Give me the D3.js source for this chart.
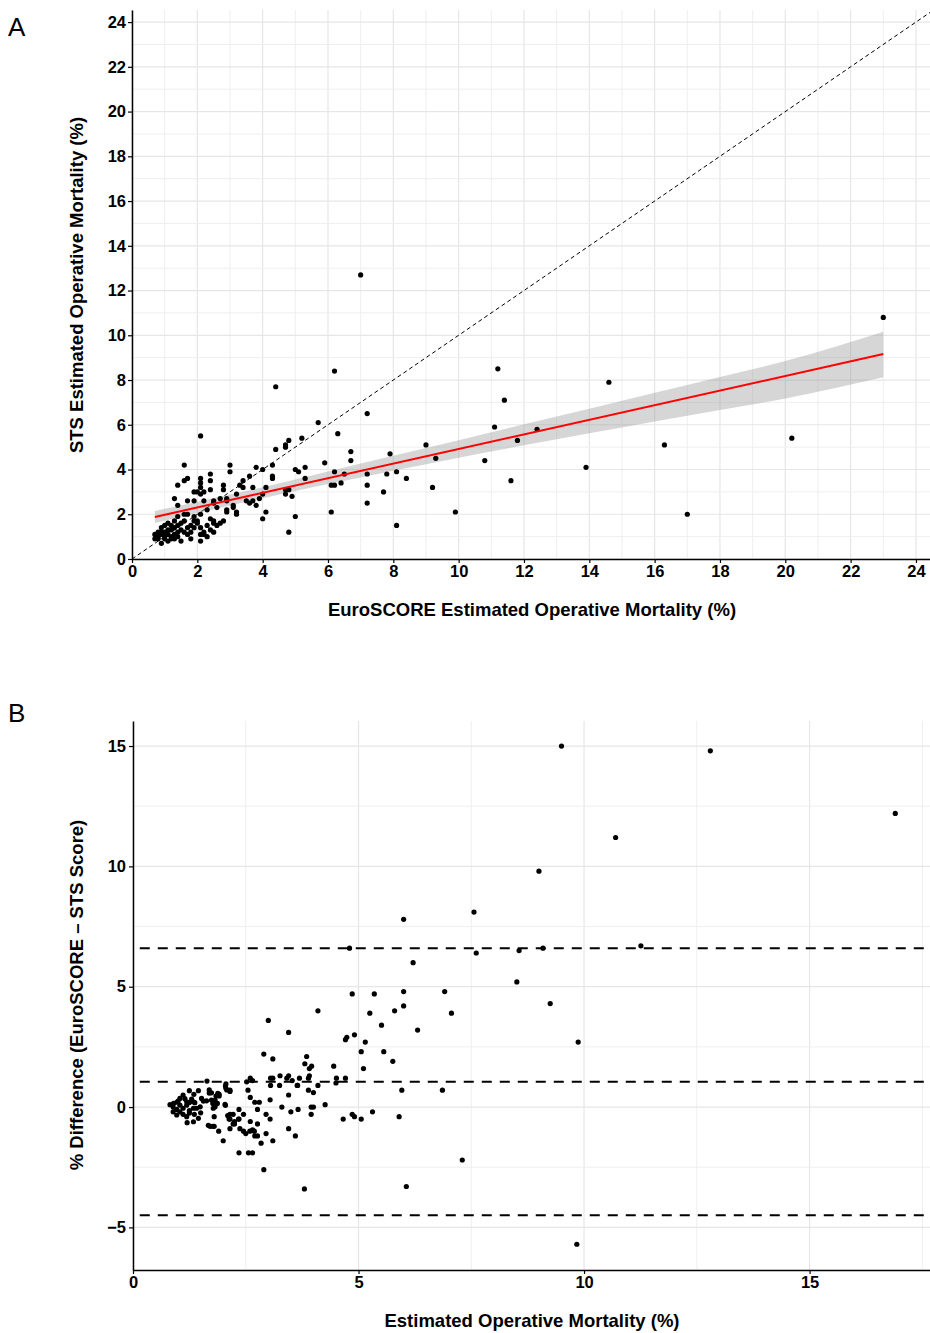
<!DOCTYPE html>
<html>
<head>
<meta charset="utf-8">
<script src="https://cdn.jsdelivr.net/npm/d3@7"></script>
<style>
body { margin: 0; background: #fff; }
text { font-family: "Liberation Sans", Arial, Helvetica, sans-serif; }
</style>
</head>
<body>
<div id="chart"></div>
<script>
// ---- panel A: EuroSCORE (x) vs STS (y)
const scatterA = [
  [23.0,10.8],[7.0,12.7],[4.4,7.7],[6.2,8.4],[11.2,8.5],[14.6,7.9],[11.4,7.1],[7.2,6.5],[5.7,6.1],[2.1,5.5],
  [11.1,5.9],[12.4,5.8],[11.8,5.3],[16.3,5.1],[20.2,5.4],[9.0,5.1],[6.3,5.6],[9.3,4.5],[10.8,4.4],[13.9,4.1],
  [11.6,3.5],[9.2,3.2],[9.9,2.1],[17.0,2.0],[8.1,1.5],[7.2,2.5],[8.4,3.6],[7.9,4.7],[8.1,3.9],[7.8,3.8],
  [7.7,3.0],[7.2,3.8],[7.2,3.3],[6.5,3.8],[6.4,3.4],[6.2,3.3],[6.1,3.3],[6.2,3.9],[6.1,2.1],[6.7,4.8],
  [6.7,4.4],[5.9,4.3],[5.3,4.1],[5.3,3.6],[5.1,3.9],[5.0,4.0],[5.2,5.4],[4.8,5.3],[4.7,5.1],[4.7,5.0],
  [4.4,4.9],[4.3,4.2],[4.3,3.7],[4.3,3.6],[5.0,1.9],[4.8,1.2],[4.9,2.8],[4.7,2.9],[4.8,3.1],[4.7,3.1],
  [1.6,4.2],[3.0,4.2],[3.0,3.9],[3.8,4.1],[4.0,4.0],[3.6,3.7],[3.4,3.5],[3.3,3.3],[2.4,3.8],[2.4,3.5],
  [2.1,3.6],[2.1,3.4],[2.1,3.2],[1.7,3.6],[1.6,3.5],[1.4,3.3],[1.9,3.0],[2.0,3.0],[2.1,2.9],[2.2,3.0],
  [2.4,3.1],[2.8,3.3],[2.8,3.1],[2.7,2.7],[2.9,2.7],[3.2,2.9],[3.4,3.2],[3.7,3.2],[4.1,3.2],[3.7,2.6],
  [3.9,2.7],[4.0,2.9],[3.5,2.6],[3.6,2.5],[2.9,2.6],[1.3,2.7],[1.9,2.6],[1.7,2.6],[2.2,2.6],[2.5,2.6],
  [2.5,2.5],[1.4,2.4],[1.6,2.0],[1.7,2.0],[1.9,1.9],[2.0,1.7],[2.1,2.0],[2.4,1.8],[2.5,1.7],[2.9,2.2],
  [2.9,2.1],[3.2,2.1],[3.2,2.0],[3.1,2.4],[3.1,2.3],[4.1,2.1],[4.0,1.8],[3.8,2.4],[2.3,2.2],[2.6,2.3],
  [1.0,1.2],[0.9,1.1],[1.0,0.9],[0.8,0.9],[0.7,0.9],[0.7,1.1],[0.9,0.7],[1.1,0.8],[1.2,1.0],[1.3,1.1],
  [1.4,1.2],[1.5,0.8],[1.6,1.2],[1.7,1.4],[1.7,1.1],[1.8,1.2],[2.1,1.1],[2.1,0.8],[1.3,1.4],[1.1,1.6],
  [1.2,1.3],[1.0,1.5],[0.8,1.2],[0.9,1.4],[1.1,1.3],[1.2,0.9],[1.4,1.5],[1.5,1.6],[1.8,1.5],[1.9,1.4],
  [2.1,1.4],[1.9,1.7],[2.0,1.6],[2.4,1.3],[2.5,1.6],[1.4,1.9],[1.3,0.9],[1.0,1.0],[0.8,1.0],[1.2,1.5],
  [1.5,1.3],[2.2,1.2],[1.6,1.7],[1.3,1.7],[2.3,1.5],[2.2,1.1],[1.1,1.1],[0.9,1.2],[1.4,1.0],[2.6,1.5],
  [2.7,1.6],[2.8,1.7],[2.5,1.2],[1.8,0.9],[2.3,1.0]
];
const fitX = [0.7, 23];
const fitY = [1.88, 9.16];
const bandX  = [0.7, 2, 4, 6, 8, 10, 12, 14, 16, 18, 20, 23];
const bandLo = [1.61, 2.06, 2.71, 3.35, 3.95, 4.53, 5.08, 5.62, 6.15, 6.66, 7.17, 8.12];
const bandHi = [2.15, 2.56, 3.21, 3.91, 4.61, 5.31, 6.02, 6.72, 7.43, 8.14, 8.85, 10.16];
const ticksA = [0, 2, 4, 6, 8, 10, 12, 14, 16, 18, 20, 22, 24];

// ---- panel B: mean of the two scores (x) vs difference (y)
const diffB = [
  [9.5,15.0],[12.8,14.8],[16.9,12.2],[10.7,11.2],[9.0,9.8],[7.56,8.1],[6.0,7.8],[11.26,6.7],[9.09,6.6],[4.8,6.6],
  [8.56,6.5],[7.61,6.4],[6.21,6.0],[8.51,5.2],[6.91,4.8],[6.0,4.8],[4.86,4.7],[5.35,4.7],[9.25,4.3],[6.0,4.2],
  [5.8,4.0],[4.1,4.0],[7.06,3.9],[5.25,3.9],[5.51,3.4],[6.31,3.2],[3.0,3.6],[3.45,3.1],[9.87,2.7],[6.86,0.7],
  [5.96,0.7],[7.3,-2.2],[6.06,-3.3],[3.8,-3.4],[9.84,-5.7],[2.9,-2.6],
  [4.71,2.8],[4.74,2.9],[4.91,3.0],[5.15,2.7],[5.06,2.3],[5.56,2.3],[5.76,1.9],[5.11,1.6],[2.9,2.2],[3.1,2.0],
  [3.85,2.1],[3.81,1.8],[3.91,1.6],[3.96,1.7],[4.45,1.7],[4.51,1.2],[4.5,1.0],[4.71,1.2],[2.65,1.1],[2.6,1.2],
  [3.05,1.2],[3.1,1.2],[3.26,1.3],[3.25,0.9],[3.41,1.2],[3.45,1.3],[3.53,1.1],[3.69,1.2],[3.64,0.9],[3.89,1.2],
  [3.91,1.3],[4.1,0.9],[3.89,0.7],[4.0,0.6],[4.26,0.1],[3.95,0.0],[4.0,0.0],[3.95,-0.3],[3.66,-0.1],[3.5,-0.2],
  [3.3,0.0],[3.04,0.3],[2.95,-0.3],[3.04,-0.5],[3.45,-0.9],[3.6,-1.2],[3.1,-1.4],[2.95,-1.1],[2.84,-1.5],[2.76,-0.7],
  [2.76,-1.2],[2.7,-1.2],[2.69,-1.0],[2.6,-0.6],[2.65,-0.95],[2.59,-1.0],[2.35,-1.9],[2.56,-1.9],[2.65,-1.9],[2.35,-0.1],
  [2.35,-0.5],[2.45,-0.3],[2.15,-0.3],[2.15,-0.5],[2.25,-0.7],[2.15,0.7],[2.6,0.4],[2.76,-0.1],[2.15,-0.9],[2.7,0.2],
  [2.8,0.2],[3.05,0.9],[3.45,0.5],[3.65,0.9],[4.86,-0.3],[4.91,-0.4],[5.06,-0.5],[4.66,-0.5],[5.31,-0.2],[5.9,-0.4],
  [2.55,0.7],[2.52,1.05],[2.5,-1.1],[2.45,-1.0],[2.37,-0.9],[2.0,-1.4],[1.9,-1.0],[2.22,-0.7],[2.25,-0.6],[2.1,-0.35],
  [2.13,-0.5],[2.22,-0.3],[2.34,-0.5],[1.8,-0.8],[1.71,-0.8],[1.8,-0.4],[1.67,-0.76],[1.77,-0.8],
  [1.64,1.08],[2.06,0.96],[2.06,0.78],[2.15,0.65],[1.69,0.71],[1.74,0.59],[1.69,0.58],[1.84,0.46],[1.91,0.53],[1.25,0.68],
  [1.45,0.68],[1.35,0.53],[1.30,0.33],[1.25,0.19],[1.34,0.22],[1.37,0.18],[1.52,0.36],[1.56,0.25],[1.82,0.29],[1.77,0.15],
  [2.04,0.11],[1.49,0.01],[1.41,-0.05],[1.34,-0.05],[1.50,-0.24],[1.36,-0.3],[1.45,-0.47],[1.2,-0.65],[1.34,-0.61],[1.63,0.26],
  [1.74,0.29],[1.87,0.15],[1.82,0.01],[1.78,-0.05],[2.05,0.07],[2.05,0.87],[2.08,0.71],[1.88,0.57],[1.91,0.46],
  [0.82,0.1],[0.89,0.0],[0.97,-0.1],[1.04,-0.2],[1.11,-0.3],[1.19,-0.4],[0.97,0.2],[1.04,0.36],[1.11,0.5],[1.19,0.22],
  [0.89,-0.2],[0.97,-0.33],[1.04,0.08],[1.11,-0.05],[1.19,0.08],[1.0,0.25],[0.9,0.15],[1.15,0.35],[1.25,-0.15],[1.25,-0.25]
];
const limitsB = [6.6, 1.05, -4.5];   // upper limit, mean difference, lower limit
const ticksBx = [0, 5, 10, 15];
const ticksBy = [-5, 0, 5, 10, 15];

const W = 930, H = 1333;
const svg = d3.select("#chart").append("svg")
    .attr("width", W)
    .attr("height", H);

// panel A scales
const xA = d3.scaleLinear().domain([0, 24.43]).range([132, 930]);
const yA = d3.scaleLinear().domain([0, 24.54]).range([559, 10]);

// panel B scales
const xB = d3.scaleLinear().domain([0, 17.67]).range([133, 930]);
const yB = d3.scaleLinear().domain([-6.77, 16.04]).range([1270, 721]);

function grid(g, x, y, xs, ys, majX, majY) {
  g.selectAll("line.gx").data(xs).enter().append("line")
      .attr("x1", d => x(d)).attr("x2", d => x(d))
      .attr("y1", y.range()[0]).attr("y2", y.range()[1])
      .attr("stroke", d => majX.includes(d) ? "#e6e6e6" : "#efefef")
      .attr("stroke-width", d => majX.includes(d) ? 1.2 : 1);
  g.selectAll("line.gy").data(ys).enter().append("line")
      .attr("y1", d => y(d)).attr("y2", d => y(d))
      .attr("x1", x.range()[0]).attr("x2", x.range()[1])
      .attr("stroke", d => majY.includes(d) ? "#e6e6e6" : "#efefef")
      .attr("stroke-width", d => majY.includes(d) ? 1.2 : 1);
}

function styleAxis(g) {
  g.select(".domain").attr("stroke", "#000").attr("stroke-width", 1.5);
  g.selectAll(".tick line").attr("stroke", "#000").attr("stroke-width", 1.2);
  g.selectAll(".tick text")
      .attr("fill", "#000")
      .style("font-size", "16.5px")
      .style("font-weight", "bold")
      .style("font-family", "'Liberation Sans', Arial, sans-serif");
}

// clip regions
const defs = svg.append("defs");
defs.append("clipPath").attr("id", "clipA").append("rect")
    .attr("x", 132).attr("y", 10).attr("width", 798).attr("height", 549);
defs.append("clipPath").attr("id", "clipB").append("rect")
    .attr("x", 133).attr("y", 721).attr("width", 797).attr("height", 549);

// ================= Panel A
const gA = svg.append("g");
grid(gA, xA, yA, d3.range(0, 25), d3.range(0, 25), ticksA, ticksA);

const plotA = gA.append("g").attr("clip-path", "url(#clipA)");

// identity line
plotA.append("line")
    .attr("x1", xA(0)).attr("y1", yA(0))
    .attr("x2", xA(25)).attr("y2", yA(25))
    .attr("stroke", "#000")
    .attr("stroke-width", 1)
    .attr("stroke-dasharray", "4,3");

// confidence band
const bandData = bandX.map((x, i) => ({x: x, lo: bandLo[i], hi: bandHi[i]}));
plotA.append("path")
    .datum(bandData)
    .attr("d", d3.area().curve(d3.curveMonotoneX)
        .x(d => xA(d.x)).y0(d => yA(d.lo)).y1(d => yA(d.hi)))
    .attr("fill", "#999999")
    .attr("fill-opacity", 0.4);

plotA.selectAll("circle").data(scatterA).enter().append("circle")
    .attr("cx", d => xA(d[0]))
    .attr("cy", d => yA(d[1]))
    .attr("r", 2.6)
    .attr("fill", "#000");

plotA.append("path")
    .datum(fitX.map((x, i) => [x, fitY[i]]))
    .attr("d", d3.line().x(d => xA(d[0])).y(d => yA(d[1])))
    .attr("stroke", "#ff0000")
    .attr("stroke-width", 2)
    .attr("fill", "none");

const axA_x = gA.append("g")
    .attr("transform", "translate(0,559)")
    .call(d3.axisBottom(xA).tickValues(ticksA).tickSize(4).tickSizeOuter(0).tickPadding(2));
styleAxis(axA_x);
const axA_y = gA.append("g")
    .attr("transform", "translate(132,0)")
    .call(d3.axisLeft(yA).tickValues(ticksA).tickSize(4).tickSizeOuter(0).tickPadding(2));
styleAxis(axA_y);

gA.append("text")
    .attr("x", 532).attr("y", 616)
    .attr("text-anchor", "middle")
    .style("font-size", "18.5px").style("font-weight", "bold")
    .text("EuroSCORE Estimated Operative Mortality (%)");
gA.append("text")
    .attr("transform", "translate(83,285) rotate(-90)")
    .attr("text-anchor", "middle")
    .style("font-size", "18.5px").style("font-weight", "bold")
    .text("STS Estimated Operative Mortality (%)");
svg.append("text")
    .attr("x", 8).attr("y", 36)
    .style("font-size", "26px")
    .text("A");

// ================= Panel B
const gB = svg.append("g");
grid(gB, xB, yB, d3.range(0, 17.6, 2.5), d3.range(-5, 16, 2.5), ticksBx, ticksBy);

const plotB = gB.append("g").attr("clip-path", "url(#clipB)");

plotB.selectAll("line.lim").data(limitsB).enter().append("line")
    .attr("x1", xB(0.15)).attr("x2", xB(17.67))
    .attr("y1", d => yB(d)).attr("y2", d => yB(d))
    .attr("stroke", "#000")
    .attr("stroke-width", 2)
    .attr("stroke-dasharray", "10,8");

plotB.selectAll("circle").data(diffB).enter().append("circle")
    .attr("cx", d => xB(d[0]))
    .attr("cy", d => yB(d[1]))
    .attr("r", 2.6)
    .attr("fill", "#000");

const axB_x = gB.append("g")
    .attr("transform", "translate(0,1270)")
    .call(d3.axisBottom(xB).tickValues(ticksBx).tickSize(4).tickSizeOuter(0).tickPadding(2));
styleAxis(axB_x);
const axB_y = gB.append("g")
    .attr("transform", "translate(133,0)")
    .call(d3.axisLeft(yB).tickValues(ticksBy).tickSize(4).tickSizeOuter(0).tickPadding(3));
styleAxis(axB_y);

gB.append("text")
    .attr("x", 532).attr("y", 1327)
    .attr("text-anchor", "middle")
    .style("font-size", "18.5px").style("font-weight", "bold")
    .text("Estimated Operative Mortality (%)");
gB.append("text")
    .attr("transform", "translate(83,995) rotate(-90)")
    .attr("text-anchor", "middle")
    .style("font-size", "18.5px").style("font-weight", "bold")
    .text("% Difference (EuroSCORE \u2013 STS Score)");
svg.append("text")
    .attr("x", 8).attr("y", 722)
    .style("font-size", "26px")
    .text("B");
</script>
</body>
</html>
